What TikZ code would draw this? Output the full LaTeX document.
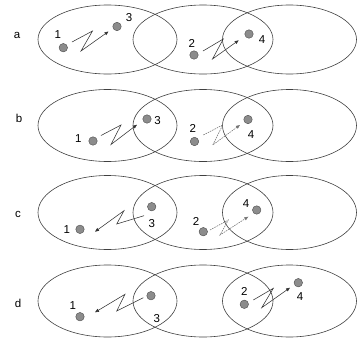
\documentclass[tikz,border=0pt]{standalone}
\usepackage{fontspec}
\setmainfont{Liberation Sans}
\usetikzlibrary{arrows.meta}
\begin{document}
\begin{tikzpicture}[x=1pt,y=-1pt,
  region/.style={draw=black!75,line width=0.6pt},
  dot/.style={circle,draw=black!70,fill=black!45,line width=0.4pt,minimum size=8.5pt,inner sep=0pt},
  lbl/.style={inner sep=0pt,font=\fontsize{11.5}{11.5}\selectfont},
  rowlbl/.style={inner sep=0pt,font=\fontsize{11.5}{11.5}\selectfont},
  zig/.style={draw=black!80,line width=0.55pt,-{Triangle[length=4pt,width=3.2pt]}},
  zigd/.style={zig,draw=black!55,dash pattern=on 1.6pt off 0.9pt}]
\useasboundingbox (0,0) rectangle (357,338);
% ---------- row a ----------
\node[rowlbl] (ra) at (17,35) {a};
\draw[region] (107.5,39.5) ellipse [x radius=69.5,y radius=34.5];
\draw[region] (203,39.5) ellipse [x radius=70,y radius=34.5];
\draw[region] (289.5,39.5) ellipse [x radius=67,y radius=34.5];
\node[dot] (a1) at (63.3,47.7) {};
\node[dot] (a3) at (117,26.5) {};
\node[dot] (a2) at (194,55) {};
\node[dot] (a4) at (249,34) {};
\node[lbl] (la1) at (57.7,35) {1};
\node[lbl] (la3) at (129,17.3) {3};
\node[lbl] (la2) at (191.7,43) {2};
\node[lbl] (la4) at (262,40) {4};
\coordinate (as1) at (72,42); \coordinate (au1) at (92.5,31); \coordinate (av1) at (81,51); \coordinate (at1) at (108.5,31.5);
\coordinate (as2) at (203,51); \coordinate (au2) at (223.3,39); \coordinate (av2) at (212.5,59); \coordinate (at2) at (238.7,40.3);
\draw[zig] (as1) -- (au1) -- (av1) -- (at1);
\draw[zig] (as2) -- (au2) -- (av2) -- (at2);
% ---------- row b ----------
\node[rowlbl] (rb) at (19,118) {b};
\draw[region] (107.5,125.5) ellipse [x radius=69.5,y radius=36];
\draw[region] (203,125.5) ellipse [x radius=70,y radius=36];
\draw[region] (289.5,125.5) ellipse [x radius=67,y radius=36];
\node[dot] (b1) at (93,141) {};
\node[dot] (b3) at (147,119) {};
\node[dot] (b2) at (194.5,141.5) {};
\node[dot] (b4) at (248,119.5) {};
\node[lbl] (lb1) at (78.3,139) {1};
\node[lbl] (lb3) at (157.5,120.5) {3};
\node[lbl] (lb2) at (192.7,128.3) {2};
\node[lbl] (lb4) at (251,135) {4};
\coordinate (bs1) at (101,135.5); \coordinate (bu1) at (121,125); \coordinate (bv1) at (111,144.5); \coordinate (bt1) at (137,124.7);
\coordinate (bs2) at (203.3,135); \coordinate (bu2) at (222.7,125); \coordinate (bv2) at (212.7,145); \coordinate (bt2) at (240,125);
\draw[zig] (bs1) -- (bu1) -- (bv1) -- (bt1);
\draw[zigd] (bs2) -- (bu2) -- (bv2) -- (bt2);
% ---------- row c ----------
\node[rowlbl] (rc) at (18,214) {c};
\draw[region] (107.5,212.5) ellipse [x radius=69.5,y radius=37];
\draw[region] (203,212.5) ellipse [x radius=70,y radius=37];
\draw[region] (289.5,212.5) ellipse [x radius=67,y radius=37];
\node[dot] (c1) at (80,229.3) {};
\node[dot] (c3) at (151.7,206.7) {};
\node[dot] (c2) at (203.3,231.7) {};
\node[dot] (c4) at (256.7,210) {};
\node[lbl] (lc1) at (66.7,229.3) {1};
\node[lbl] (lc3) at (151.7,223.3) {3};
\node[lbl] (lc2) at (196,221.7) {2};
\node[lbl] (lc4) at (246,203.3) {4};
\coordinate (cs1) at (144,215.7); \coordinate (cu1) at (116.7,224); \coordinate (cv1) at (124,210.7); \coordinate (ct1) at (95,231.7);
\coordinate (cs2) at (210,230); \coordinate (cu2) at (228.3,220); \coordinate (cv2) at (220,235); \coordinate (ct2) at (248.3,216.7);
\draw[zig] (cs1) -- (cu1) -- (cv1) -- (ct1);
\draw[zigd] (cs2) -- (cu2) -- (cv2) -- (ct2);
% ---------- row d ----------
\node[rowlbl] (rd) at (18,303) {d};
\draw[region] (107.5,301) ellipse [x radius=69.5,y radius=36];
\draw[region] (203,301) ellipse [x radius=70,y radius=36];
\draw[region] (289.5,301) ellipse [x radius=67,y radius=36];
\node[dot] (d1) at (80,316.7) {};
\node[dot] (d3) at (151,295.7) {};
\node[dot] (d2) at (244.3,304.3) {};
\node[dot] (d4) at (298.3,282.7) {};
\node[lbl] (ld1) at (72.7,305.7) {1};
\node[lbl] (ld3) at (156.7,318.3) {3};
\node[lbl] (ld2) at (244.3,291.7) {2};
\node[lbl] (ld4) at (300,296.7) {4};
\coordinate (ds1) at (143.3,297.7); \coordinate (du1) at (116.7,311); \coordinate (dv1) at (125,294.3); \coordinate (dt1) at (95,312.3);
\coordinate (ds2) at (253.3,300); \coordinate (du2) at (273.3,288.3); \coordinate (dv2) at (261.7,307.7); \coordinate (dt2) at (290,287.7);
\draw[zig] (ds1) -- (du1) -- (dv1) -- (dt1);
\draw[zig] (ds2) -- (du2) -- (dv2) -- (dt2);
\end{tikzpicture}
\end{document}
